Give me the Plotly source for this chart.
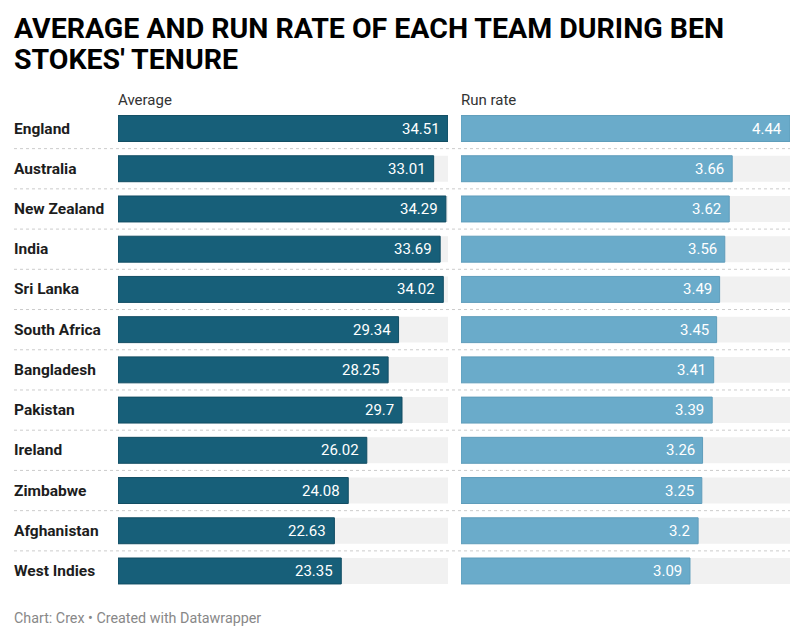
import plotly.graph_objects as go

teams = ["England", "Australia", "New Zealand", "India", "Sri Lanka", "South Africa",
         "Bangladesh", "Pakistan", "Ireland", "Zimbabwe", "Afghanistan", "West Indies"]
average = [34.51, 33.01, 34.29, 33.69, 34.02, 29.34, 28.25, 29.7, 26.02, 24.08, 22.63, 23.35]
run_rate = [4.44, 3.66, 3.62, 3.56, 3.49, 3.45, 3.41, 3.39, 3.26, 3.25, 3.2, 3.09]
avg_labels = ["34.51", "33.01", "34.29", "33.69", "34.02", "29.34", "28.25", "29.7", "26.02", "24.08", "22.63", "23.35"]
rr_labels = ["4.44", "3.66", "3.62", "3.56", "3.49", "3.45", "3.41", "3.39", "3.26", "3.25", "3.2", "3.09"]

W, H = 805, 640
FONT = "Roboto"
DARK = "#175f79"
LIGHT = "#6aabca"
BG = "#f1f1f1"

ys = list(range(len(teams)))
avg_max = max(average)
rr_max = max(run_rate)
bw = 0.645

fig = go.Figure()
fig.add_trace(go.Bar(x=[avg_max] * len(teams), y=ys, orientation="h", marker=dict(color=BG, line=dict(width=0)),
                     width=bw, xaxis="x", yaxis="y", hoverinfo="skip"))
fig.add_trace(go.Bar(x=average, y=ys, orientation="h", marker=dict(color=DARK, line=dict(color="#124d63", width=1)),
                     width=bw, xaxis="x", yaxis="y"))
fig.add_trace(go.Bar(x=[rr_max] * len(teams), y=ys, orientation="h", marker=dict(color=BG, line=dict(width=0)),
                     width=bw, xaxis="x2", yaxis="y2", hoverinfo="skip"))
fig.add_trace(go.Bar(x=run_rate, y=ys, orientation="h", marker=dict(color=LIGHT, line=dict(color="#5f9dbb", width=1)),
                     width=bw, xaxis="x2", yaxis="y2"))

annotations = []
for i, (t, a, r, al, rl) in enumerate(zip(teams, average, run_rate, avg_labels, rr_labels)):
    annotations.append(dict(text=f"<b>{t}</b>", x=14 / W, xref="paper", y=i, yref="y", xanchor="left",
                            yanchor="middle", xshift=-2, showarrow=False,
                            font=dict(family=FONT, size=15.5, color="#1d1d1d")))
    annotations.append(dict(text=al, x=a, xref="x", y=i, yref="y", xanchor="right", yanchor="middle",
                            xshift=-6, showarrow=False, font=dict(family=FONT, size=15, color="white")))
    annotations.append(dict(text=rl, x=r, xref="x2", y=i, yref="y2", xanchor="right", yanchor="middle",
                            xshift=-6, showarrow=False, font=dict(family=FONT, size=15, color="white")))

title_lines = ["AVERAGE AND RUN RATE OF EACH TEAM DURING BEN", "STOKES' TENURE"]
for k, line in enumerate(title_lines):
    annotations.append(dict(text=f"<b>{line}</b>", x=14 / W, y=1 - (29 + 30.5 * k) / H, xref="paper", yref="paper",
                            xanchor="left", yanchor="middle", xshift=-2, showarrow=False,
                            font=dict(family=FONT, size=28.5, color="#000000")))

annotations += [
    dict(text="Average", x=118 / W, y=1 - 100 / H, xref="paper", yref="paper", xanchor="left", yanchor="middle",
         xshift=-2, showarrow=False, font=dict(family=FONT, size=15, color="#333333")),
    dict(text="Run rate", x=461 / W, y=1 - 100 / H, xref="paper", yref="paper", xanchor="left", yanchor="middle",
         xshift=-2, showarrow=False, font=dict(family=FONT, size=15, color="#333333")),
    dict(text="Chart: Crex • Created with Datawrapper", x=14 / W, y=1 - 618 / H, xref="paper", yref="paper",
         xanchor="left", yanchor="middle", xshift=-2, showarrow=False,
         font=dict(family=FONT, size=14.3, color="#888888")),
]

shapes = []
for i in range(len(teams) - 1):
    shapes.append(dict(type="line", xref="paper", yref="y", x0=14 / W, x1=790 / W, y0=i + 0.5, y1=i + 0.5,
                       line=dict(color="#cccccc", width=1, dash="dot")))

ydom = [(H - 591.1) / H, (H - 108.4) / H]
yrange = [len(teams) - 0.5, -0.5]
fig.update_layout(
    width=W, height=H, margin=dict(l=0, r=0, t=0, b=0),
    paper_bgcolor="white", plot_bgcolor="white",
    barmode="overlay", showlegend=False,
    xaxis=dict(domain=[118 / W, 448 / W], range=[0, avg_max], visible=False, fixedrange=True),
    xaxis2=dict(domain=[461 / W, 790 / W], range=[0, rr_max], visible=False, fixedrange=True),
    yaxis=dict(domain=ydom, range=yrange, visible=False, fixedrange=True),
    yaxis2=dict(domain=ydom, range=yrange, visible=False, anchor="x2", fixedrange=True),
    annotations=annotations, shapes=shapes,
    font=dict(family=FONT),
)
fig.write_html("out.html")
